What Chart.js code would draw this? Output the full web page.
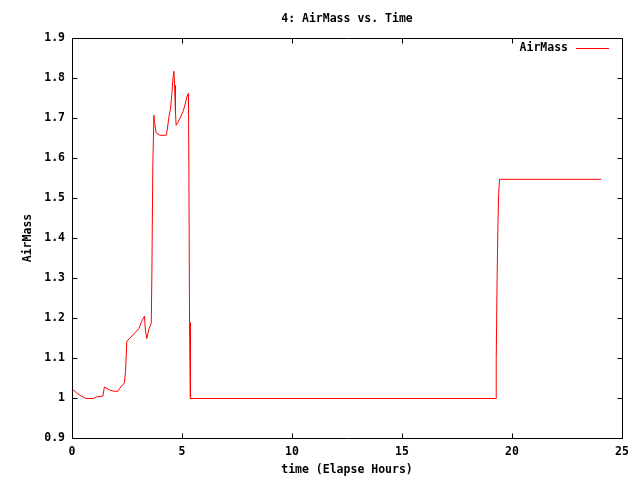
<!DOCTYPE html>
<html>
<head>
<meta charset="utf-8">
<script src="https://cdn.jsdelivr.net/npm/chart.js@4/dist/chart.umd.min.js"></script>
<style>
  html, body { margin: 0; padding: 0; background: #ffffff; }
  #wrap { width: 640px; height: 480px; }
</style>
</head>
<body>
<div id="wrap"><canvas id="c" width="640" height="480"></canvas></div>
<script>
// ---- data ----
const chartTitle = '4: AirMass vs. Time';
const seriesName = 'AirMass';
const xTitle = 'time (Elapse Hours)';
const yTitle = 'AirMass';

const timeHours = [0, 0.17, 0.39, 0.62, 0.95, 1.08, 1.38, 1.45, 1.68, 1.91, 2.06, 2.14, 2.36, 2.41, 2.47, 2.59, 2.82, 3.02, 3.12, 3.27, 3.32, 3.38, 3.47, 3.58, 3.61, 3.65, 3.70, 3.73, 3.80, 3.98, 4.26, 4.30, 4.38, 4.45, 4.52, 4.56, 4.61, 4.64, 4.68, 4.71, 4.79, 5.02, 5.09, 5.20, 5.27, 5.29, 5.32, 5.36, 19.23, 19.26, 19.30, 19.34, 19.37, 19.41, 24.03];
const airMass = [1.023, 1.015, 1.006, 1.0, 1.0, 1.004, 1.006, 1.029, 1.021, 1.018, 1.018, 1.025, 1.039, 1.067, 1.143, 1.15, 1.163, 1.175, 1.19, 1.206, 1.167, 1.15, 1.173, 1.188, 1.32, 1.579, 1.708, 1.69, 1.664, 1.658, 1.658, 1.669, 1.703, 1.723, 1.763, 1.796, 1.818, 1.783, 1.717, 1.683, 1.69, 1.717, 1.729, 1.754, 1.763, 1.571, 1.19, 1.0, 1.0, 1.1, 1.3, 1.44, 1.51, 1.548, 1.548];

const xTickValues = [0, 5, 10, 15, 20, 25];
const yTickValues = [0.9, 1.0, 1.1, 1.2, 1.3, 1.4, 1.5, 1.6, 1.7, 1.8, 1.9];

// ---- styling ----
const FONT_FAMILY = '"DejaVu Sans Mono", "Liberation Mono", monospace';
const FONT_SIZE = 11.5;
const FONT = { family: FONT_FAMILY, size: FONT_SIZE, weight: 'bold' };
const TICK_LEN = 5;

const points = timeHours.map((t, i) => ({ x: t, y: airMass[i] }));

const framePlugin = {
  id: 'gnuplotFrame',
  beforeDatasetsDraw(chart) {
    const ctx = chart.ctx;
    const a = chart.chartArea;
    const xs = chart.scales.x, ys = chart.scales.y;
    const L = Math.round(a.left) + 0.5, R = Math.round(a.right) + 0.5;
    const T = Math.round(a.top) + 0.5, B = Math.round(a.bottom) + 0.5;
    ctx.save();
    ctx.strokeStyle = '#000000';
    ctx.lineWidth = 1;
    ctx.beginPath();
    ctx.rect(L, T, R - L, B - T);
    xs.ticks.forEach(tk => {
      const px = Math.round(xs.getPixelForValue(tk.value)) + 0.5;
      ctx.moveTo(px, B); ctx.lineTo(px, B - TICK_LEN);
      ctx.moveTo(px, T); ctx.lineTo(px, T + TICK_LEN);
    });
    ys.ticks.forEach(tk => {
      const py = Math.round(ys.getPixelForValue(tk.value)) + 0.5;
      ctx.moveTo(L, py); ctx.lineTo(L + TICK_LEN, py);
      ctx.moveTo(R, py); ctx.lineTo(R - TICK_LEN, py);
    });
    ctx.stroke();
    ctx.restore();
    // crisp 1px data line
    ctx.save();
    ctx.translate(0.5, 0.5);
  },
  afterDatasetsDraw(chart) {
    chart.ctx.restore();
  },
  afterDraw(chart) {
    const ctx = chart.ctx;
    const a = chart.chartArea;
    const y = Math.round(a.top) + 10.5;
    ctx.save();
    ctx.font = 'bold ' + FONT_SIZE + 'px ' + FONT_FAMILY;
    ctx.fillStyle = '#000000';
    ctx.textAlign = 'right';
    ctx.textBaseline = 'middle';
    ctx.fillText(seriesName, a.right - 54, y);
    ctx.strokeStyle = '#ff0000';
    ctx.lineWidth = 1;
    ctx.beginPath();
    ctx.moveTo(a.right - 46, y);
    ctx.lineTo(a.right - 13, y);
    ctx.stroke();
    ctx.restore();
  }
};

new Chart(document.getElementById('c'), {
  type: 'line',
  data: {
    datasets: [{
      label: seriesName,
      data: points,
      borderColor: '#ff0000',
      borderWidth: 1,
      pointRadius: 0,
      tension: 0,
      fill: false
    }]
  },
  options: {
    responsive: false,
    animation: false,
    devicePixelRatio: 1,
    layout: { padding: { top: 0, left: 0, right: 18, bottom: 0 } },
    plugins: {
      legend: { display: false },
      tooltip: { enabled: false },
      title: {
        display: true,
        text: chartTitle,
        fullSize: false,
        color: '#000000',
        font: FONT,
        padding: { top: 12.4, bottom: 11.8 }
      }
    },
    scales: {
      x: {
        type: 'linear',
        min: 0,
        max: 25,
        afterBuildTicks: s => { s.ticks = xTickValues.map(v => ({ value: v })); },
        afterFit: s => { s.height = 42; },
        grid: { display: false, drawTicks: false },
        border: { display: false },
        ticks: {
          color: '#000000',
          font: FONT,
          padding: 7,
          maxRotation: 0,
          autoSkip: false,
          callback: v => String(v)
        },
        title: {
          display: true,
          text: xTitle,
          color: '#000000',
          font: FONT,
          padding: { top: 3, bottom: 3 }
        }
      },
      y: {
        type: 'linear',
        min: 0.9,
        max: 1.9,
        afterBuildTicks: s => { s.ticks = yTickValues.map(v => ({ value: v })); },
        afterFit: s => { s.width = 72; },
        grid: { display: false, drawTicks: false },
        border: { display: false },
        ticks: {
          color: '#000000',
          font: FONT,
          padding: 7,
          autoSkip: false,
          callback: v => String(Math.round(v * 10) / 10)
        },
        title: {
          display: true,
          text: yTitle,
          color: '#000000',
          font: FONT,
          padding: { top: 21, bottom: 21 }
        }
      }
    }
  },
  plugins: [framePlugin]
});
</script>
</body>
</html>
